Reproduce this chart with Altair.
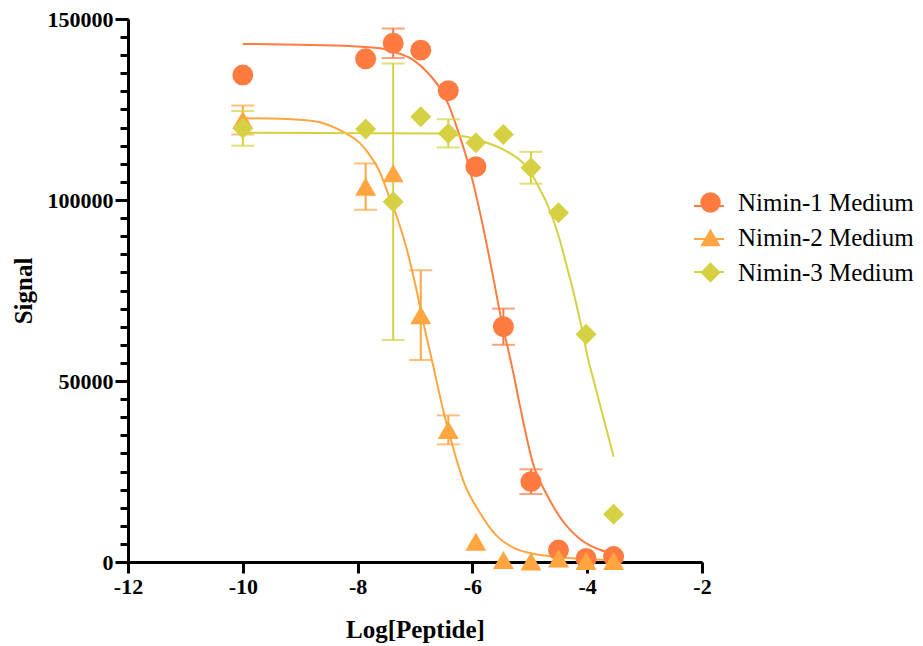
import altair as alt
import pandas as pd

# ---------------- data ----------------
series_names = ["Nimin-1 Medium", "Nimin-2 Medium", "Nimin-3 Medium"]
series_colors = ["#FF7B40", "#FFA640", "#D6D143"]
series_shapes = ["circle", "triangle-up", "diamond"]

log_dose = [-10.0, -7.86, -7.38, -6.90, -6.42, -5.94, -5.46, -4.98, -4.50, -4.02, -3.54]

n1_mean = [134500, 139000, 143300, 141400, 130200, 109200, 65000, 22200, 3300, 1000, 1500]
n1_err = [0, 0, 4100, 0, 0, 0, 5000, 3400, 0, 0, 0]
n2_mean = [122100, 103700, 107400, 68200, 36500, 5600, 550, 150, 1000, 300, 300]
n2_err = [4000, 6400, 0, 12400, 4000, 0, 0, 0, 0, 0, 0]
n3_mean = [119800, 119600, 99500, 123000, 118400, 115800, 118100, 108900, 96500, 62900, 13200]
n3_err = [4800, 0, 38200, 0, 3900, 0, 0, 4400, 0, 0, 0]

# fitted curves
n1_curve_x = [-10.0, -8.08, -7.61, -7.38, -7.03, -6.74, -6.57, -6.42, -6.27, -6.10, -5.96,
              -5.84, -5.66, -5.49, -5.36, -5.29, -5.17, -4.94, -4.70, -4.47, -4.12, -3.78, -3.54]
n1_curve_y = [143100, 142500, 141900, 141000, 138700, 134500, 131000, 126500, 120000, 111500, 103000,
              94500, 80500, 66500, 57500, 52500, 43000, 27000, 18500, 12300, 6300, 3400, 2400]
n2_curve_x = [-10.0, -9.0, -8.66, -8.25, -7.96, -7.84, -7.61, -7.44, -7.32, -7.15, -7.00,
              -6.86, -6.68, -6.51, -6.33, -6.16, -5.87, -5.58, -5.29, -5.00, -4.65, -4.12, -3.54]
n2_curve_y = [122600, 122200, 121500, 118800, 115700, 113500, 107600, 100500, 95500, 86800, 77000,
              66500, 54000, 42000, 31200, 22500, 13600, 7300, 4000, 2500, 1600, 900, 550]
n3_curve_x = [-10.0, -6.57, -6.45, -5.98, -5.64, -5.34, -5.11, -4.94, -4.82, -4.70, -4.53,
              -4.36, -4.27, -4.12, -3.98, -3.89, -3.54]
n3_curve_y = [118600, 118400, 118200, 117000, 115200, 112900, 110100, 106400, 102800, 99000, 91700,
              82000, 76500, 66400, 55800, 50300, 29100]

x_ticks = [-12, -10, -8, -6, -4, -2]
y_major_ticks = [0, 50000, 100000, 150000]
y_minor_ticks = list(range(0, 150001, 5000))

# ---------------- tables ----------------
rows = []
for name, col, means, errs in zip(series_names, series_colors,
                                  [n1_mean, n2_mean, n3_mean], [n1_err, n2_err, n3_err]):
    for xv, m, e in zip(log_dose, means, errs):
        rows.append({"series": name, "col": col, "x": xv, "y": m, "err": e})
pts = pd.DataFrame(rows)

crows = []
for name, cx, cy in zip(series_names,
                        [n1_curve_x, n2_curve_x, n3_curve_x],
                        [n1_curve_y, n2_curve_y, n3_curve_y]):
    for i, (xv, yv) in enumerate(zip(cx, cy)):
        crows.append({"series": name, "x": xv, "y": yv, "i": i})
curves = pd.DataFrame(crows)

FONT = "Liberation Serif"

x_scale = alt.Scale(domain=[-12, -2], nice=False, zero=False)
y_scale = alt.Scale(domain=[0, 150000], nice=False, zero=False)

x_axis = alt.Axis(values=x_ticks, labelExpr="datum.value + ''", title="Log[Peptide]",
                  grid=False, domainColor="black", domainWidth=3, tickColor="black",
                  tickWidth=3, tickSize=11, labelFont=FONT, labelFontWeight="bold",
                  labelFontSize=22, labelColor="black", labelPadding=3,
                  titleFont=FONT, titleFontSize=25, titleFontWeight="bold",
                  titleColor="black", titlePadding=20, labelFlush=False)

y_axis_major = alt.Axis(values=y_major_ticks, labelExpr="datum.value + ''", title="Signal",
                        orient="left", grid=False, domainColor="black", domainWidth=3,
                        tickColor="black", tickWidth=3, tickSize=13, labelFont=FONT,
                        labelFontWeight="bold", labelFontSize=22, labelColor="black",
                        labelPadding=2, titleFont=FONT, titleFontSize=25,
                        titleFontWeight="bold", titleColor="black", titlePadding=11,
                        labelFlush=False, labelOverlap=False)

y_axis_minor = alt.Axis(values=y_minor_ticks, labels=False, title=None, orient="left",
                        grid=False, domain=False, tickColor="black", tickWidth=3, tickSize=8)

x_enc = alt.X("x:Q", scale=x_scale, axis=x_axis)

color_scale = alt.Scale(domain=series_names, range=series_colors)

lines = alt.Chart(curves).mark_line(strokeWidth=2, interpolate="monotone").encode(
    x=x_enc,
    y=alt.Y("y:Q", scale=y_scale, axis=y_axis_major),
    stroke=alt.Stroke("series:N", scale=alt.Scale(range=series_colors), sort=series_names,
                      legend=alt.Legend(orient="none", legendX=565, legendY=171, title=None,
                                        symbolType="stroke", symbolSize=900,
                                        symbolStrokeWidth=2, labelExpr="''",
                                        rowPadding=4)),
    detail="series:N",
    order="i:Q",
)

err_base = alt.Chart(pts).transform_filter("datum.err > 0").transform_calculate(
    lo="datum.y - datum.err", hi="datum.y + datum.err")

err_rules = err_base.mark_rule(strokeWidth=2).encode(
    x=x_enc,
    y=alt.Y("lo:Q", scale=y_scale, axis=None),
    y2="hi:Q",
    color=alt.Color("col:N", scale=None),
)

cap_lo = err_base.mark_tick(orient="horizontal", size=23, thickness=2).encode(
    x=x_enc,
    y=alt.Y("lo:Q", scale=y_scale, axis=None),
    color=alt.Color("col:N", scale=None),
)
cap_hi = err_base.mark_tick(orient="horizontal", size=23, thickness=2).encode(
    x=x_enc,
    y=alt.Y("hi:Q", scale=y_scale, axis=None),
    color=alt.Color("col:N", scale=None),
)

point_legend = alt.Legend(orient="none", legendX=570, legendY=171, title=None,
                          symbolSize=420, labelOffset=15, rowPadding=9,
                          symbolStrokeWidth=0, symbolOpacity=1,
                          labelFont=FONT, labelFontSize=25, labelColor="black",
                          labelFontWeight="normal", labelLimit=0)

points = alt.Chart(pts).mark_point(filled=True, opacity=1, size=440).encode(
    x=x_enc,
    y=alt.Y("y:Q", scale=y_scale, axis=y_axis_minor),
    color=alt.Color("series:N", scale=color_scale, sort=series_names, legend=point_legend),
    shape=alt.Shape("series:N", scale=alt.Scale(domain=series_names, range=series_shapes),
                    sort=series_names, legend=point_legend),
)

chart = alt.layer(lines, err_rules, cap_lo, cap_hi, points).resolve_axis(
    y="independent"
).properties(
    width=574, height=543,
    padding={"left": 120, "top": 11, "right": 213, "bottom": 90},
    autosize=alt.AutoSizeParams(type="none"),
    background="white",
).configure(font=FONT).configure_view(stroke=None).configure_legend(
    labelFont=FONT, labelFontSize=25, labelColor="black", labelLimit=0,
    symbolOpacity=1
)

chart.save("out.html", embed_options={"renderer": "svg", "actions": False})
